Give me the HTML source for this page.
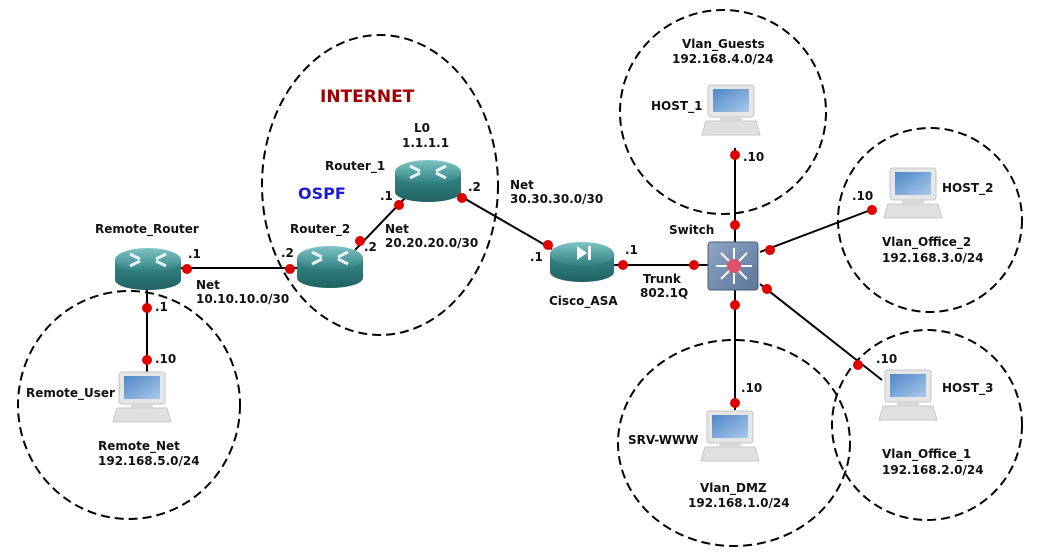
<!DOCTYPE html>
<html><head><meta charset="utf-8"><style>
body{margin:0;background:#fff}
svg{display:block}
text{font-family:"DejaVu Sans","Liberation Sans",sans-serif;font-weight:bold;font-size:12px;fill:#111}
</style></head><body>
<svg width="1042" height="558" viewBox="0 0 1042 558">
<defs>
<linearGradient id="rt" x1="0" y1="0" x2="0" y2="1"><stop offset="0" stop-color="#7fc4c4"/><stop offset="1" stop-color="#2f7f80"/></linearGradient>
<linearGradient id="rs" x1="0" y1="0" x2="0" y2="1"><stop offset="0" stop-color="#3a8a8a"/><stop offset="1" stop-color="#1f6262"/></linearGradient>
<linearGradient id="scr" x1="0" y1="0" x2="1" y2="1"><stop offset="0" stop-color="#4f86c8"/><stop offset="1" stop-color="#a9c9ea"/></linearGradient>
<linearGradient id="sw" x1="0" y1="0" x2="1" y2="1"><stop offset="0" stop-color="#8fa6c4"/><stop offset="1" stop-color="#5c7599"/></linearGradient>
<g id="router">
<path d="M-33,-8 v20 a33,10 0 0 0 66,0 v-20z" fill="url(#rs)"/>
<ellipse cx="0" cy="-8" rx="33" ry="12" fill="url(#rt)"/>
<g stroke="#e8f4f4" stroke-width="3" fill="none"><path d="M-18,-14 l10,5 M18,-2 l-10,-5 M-18,-2 l10,-5 M18,-14 l-10,5"/></g>
</g>
<g id="pc">
<rect x="-22" y="-30" width="46" height="32" rx="3" fill="#e6e6e6" stroke="#c4c4c4"/>
<rect x="-17" y="-26" width="36" height="23" fill="url(#scr)"/>
<path d="M-24,6 h50 l4,14 h-58z" fill="#e0e0e0" stroke="#c8c8c8"/>
<rect x="-10" y="2" width="22" height="5" fill="#d8d8d8"/>
</g>
</defs>
<g fill="none" stroke="#000" stroke-width="2" stroke-dasharray="9,5">
<ellipse cx="380" cy="185" rx="118" ry="150"/>
<ellipse cx="129" cy="405" rx="111" ry="114"/>
<ellipse cx="723" cy="112" rx="103" ry="102"/>
<ellipse cx="930" cy="220" rx="92" ry="92"/>
<ellipse cx="734" cy="443" rx="116" ry="103"/>
<ellipse cx="927" cy="425" rx="95" ry="95"/>
</g>
<g stroke="#000" stroke-width="2">
<line x1="180" y1="268" x2="298" y2="268"/>
<line x1="355" y1="250" x2="405" y2="198"/>
<line x1="455" y1="193" x2="552" y2="249"/>
<line x1="612" y1="265" x2="710" y2="265"/>
<line x1="735" y1="148" x2="735" y2="242"/>
<line x1="760" y1="252" x2="876" y2="208"/>
<line x1="760" y1="284" x2="882" y2="380"/>
<line x1="735" y1="288" x2="735" y2="410"/>
<line x1="147" y1="288" x2="147" y2="375"/>
</g>
<use href="#router" x="148" y="268"/>
<use href="#router" x="330" y="266"/>
<use href="#router" x="428" y="180"/>
<g transform="translate(582,262)">
<path d="M-32,-8 v18 a32,10 0 0 0 64,0 v-18z" fill="url(#rs)"/>
<ellipse cx="0" cy="-8" rx="32" ry="12" fill="url(#rt)"/>
<path d="M-5,-16 l10,7 l-10,7z" fill="#fff"/><rect x="6" y="-16" width="3" height="14" fill="#fff"/>
</g>
<g transform="translate(734,266)">
<rect x="-26" y="-24" width="50" height="48" rx="3" fill="url(#sw)" stroke="#4a5f7c"/>
<g stroke="#fff" stroke-width="2"><path d="M-18,0 h36 M0,-18 v36 M-13,-13 l26,26 M13,-13 l-26,26"/></g>
<circle cx="0" cy="0" r="7" fill="#e0506a"/>
</g>
<use href="#pc" x="730" y="115"/>
<use href="#pc" x="912" y="198"/>
<use href="#pc" x="907" y="400"/>
<use href="#pc" x="729" y="441"/>
<use href="#pc" x="141" y="402"/>
<g fill="#e00000">
<circle cx="187" cy="269" r="5"/><circle cx="290" cy="269" r="5"/>
<circle cx="360" cy="241" r="5"/><circle cx="399" cy="205" r="5"/>
<circle cx="462" cy="198" r="5"/><circle cx="548" cy="245" r="5"/>
<circle cx="623" cy="265" r="5"/><circle cx="694" cy="265" r="5"/>
<circle cx="735" cy="155" r="5"/><circle cx="735" cy="225" r="5"/>
<circle cx="770" cy="250" r="5"/><circle cx="872" cy="210" r="5"/>
<circle cx="767" cy="289" r="5"/><circle cx="858" cy="365" r="5"/>
<circle cx="735" cy="305" r="5"/><circle cx="735" cy="403" r="5"/>
<circle cx="147" cy="308" r="5"/><circle cx="147" cy="360" r="5"/>
</g>
<text x="320" y="102" style="font-size:17px;fill:#a00000">INTERNET</text>
<text x="298" y="199" style="font-size:16px;fill:#1a1adc">OSPF</text>
<text x="414" y="132">L0</text>
<text x="402" y="147">1.1.1.1</text>
<text x="325" y="170">Router_1</text>
<text x="290" y="233">Router_2</text>
<text x="95" y="233">Remote_Router</text>
<text x="188" y="258">.1</text>
<text x="281" y="257">.2</text>
<text x="196" y="289">Net</text>
<text x="196" y="303">10.10.10.0/30</text>
<text x="380" y="200">.1</text>
<text x="364" y="251">.2</text>
<text x="385" y="233">Net</text>
<text x="385" y="247">20.20.20.0/30</text>
<text x="468" y="191">.2</text>
<text x="510" y="189">Net</text>
<text x="510" y="203">30.30.30.0/30</text>
<text x="530" y="261">.1</text>
<text x="625" y="254">.1</text>
<text x="549" y="305">Cisco_ASA</text>
<text x="643" y="283">Trunk</text>
<text x="640" y="297">802.1Q</text>
<text x="669" y="234">Switch</text>
<text x="682" y="48">Vlan_Guests</text>
<text x="672" y="63">192.168.4.0/24</text>
<text x="651" y="110">HOST_1</text>
<text x="743" y="161">.10</text>
<text x="852" y="200">.10</text>
<text x="942" y="192">HOST_2</text>
<text x="882" y="246">Vlan_Office_2</text>
<text x="882" y="262">192.168.3.0/24</text>
<text x="876" y="363">.10</text>
<text x="942" y="392">HOST_3</text>
<text x="882" y="458">Vlan_Office_1</text>
<text x="882" y="474">192.168.2.0/24</text>
<text x="741" y="392">.10</text>
<text x="628" y="444">SRV-WWW</text>
<text x="700" y="492">Vlan_DMZ</text>
<text x="688" y="507">192.168.1.0/24</text>
<text x="155" y="311">.1</text>
<text x="155" y="363">.10</text>
<text x="26" y="397">Remote_User</text>
<text x="98" y="450">Remote_Net</text>
<text x="98" y="465">192.168.5.0/24</text>
</svg>
</body></html>
